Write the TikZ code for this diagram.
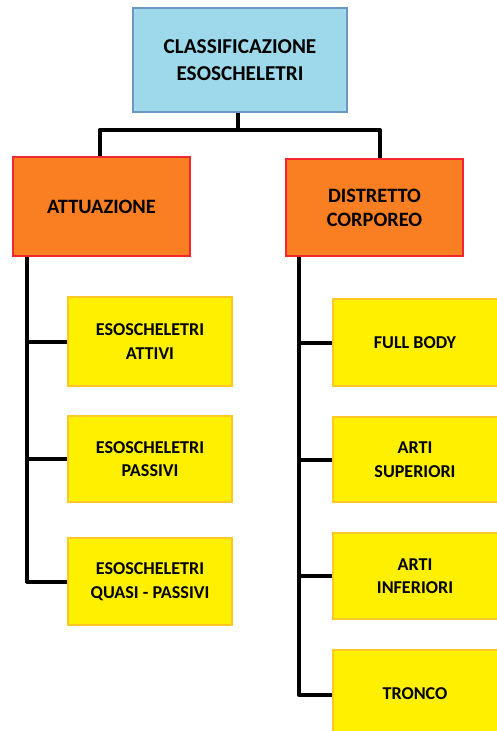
\documentclass[tikz,border=0pt]{standalone}
\usepackage{fontspec}
\setmainfont{Carlito}
\definecolor{topfill}{HTML}{9DD9EA}
\definecolor{topline}{HTML}{6F94C6}
\definecolor{orfill}{HTML}{FA7F23}
\definecolor{orline}{HTML}{F0282D}
\definecolor{yefill}{HTML}{FFF000}
\definecolor{yeline}{HTML}{FFC826}
\begin{document}
\begin{tikzpicture}[x=1pt,y=-1pt,
  topbox/.style={draw=topline,fill=topfill,line width=2pt,inner sep=0pt,align=center,
    font=\bfseries\fontsize{21.2}{27}\selectfont},
  orbox/.style={draw=orline,fill=orfill,line width=2pt,inner sep=0pt,align=center,
    minimum width=177pt,font=\bfseries\fontsize{20.4}{24}\selectfont},
  yebox/.style={draw=yeline,fill=yefill,line width=1.5pt,inner sep=0pt,align=center,
    minimum width=164pt,font=\bfseries\fontsize{18.1}{23.5}\selectfont},
  conn/.style={line width=4pt,line join=round,line cap=butt}]
\fill[white] (0,0) rectangle (497,731);
\clip (0,0) rectangle (497,731);
\node[topbox,minimum width=214pt,minimum height=104pt] (top) at (240,60) {CLASSIFICAZIONE\\ESOSCHELETRI};
\node[orbox,minimum height=99pt] (att) at (101.5,206.5) {ATTUAZIONE};
\node[orbox,minimum height=97pt] (dist) at (374.5,207.5) {DISTRETTO\\CORPOREO};
\node[yebox,minimum height=89pt] (a1) at (150,341.5) {ESOSCHELETRI\\ATTIVI};
\node[yebox,minimum height=86pt] (a2) at (150,459) {ESOSCHELETRI\\PASSIVI};
\node[yebox,minimum height=87pt] (a3) at (150,581.5) {ESOSCHELETRI\\QUASI - PASSIVI};
\node[yebox,minimum width=168pt,minimum height=87pt] (d1) at (417,342.5) {\hspace*{-4pt}FULL BODY};
\node[yebox,minimum width=168pt,minimum height=85pt] (d2) at (417,459.5) {\hspace*{-4pt}ARTI\\\hspace*{-4pt}SUPERIORI};
\node[yebox,minimum width=168pt,minimum height=86pt] (d3) at (417,576) {\hspace*{-4pt}ARTI\\\hspace*{-4pt}INFERIORI};
\node[yebox,minimum width=168pt,minimum height=87pt] (d4) at (417,693.5) {\hspace*{-4pt}TRONCO};
\coordinate (j) at (238,130);
\draw[conn] ([xshift=-2pt]top.south) -- (j);
\draw[conn] (j) -| ([xshift=-2pt]att.north);
\draw[conn] (j) -| ([xshift=5.5pt]dist.north);
\draw[conn] ([xshift=15pt]att.south west) |- (a1.west);
\draw[conn] ([xshift=15pt]att.south west) |- (a2.west);
\draw[conn] ([xshift=15pt]att.south west) |- (a3.west);
\draw[conn] ([xshift=14pt]dist.south west) |- (d1.west);
\draw[conn] ([xshift=14pt]dist.south west) |- (d2.west);
\draw[conn] ([xshift=14pt]dist.south west) |- (d3.west);
\draw[conn] ([xshift=14pt]dist.south west) |- ([yshift=-1.5pt]d4.west);
\end{tikzpicture}
\end{document}
